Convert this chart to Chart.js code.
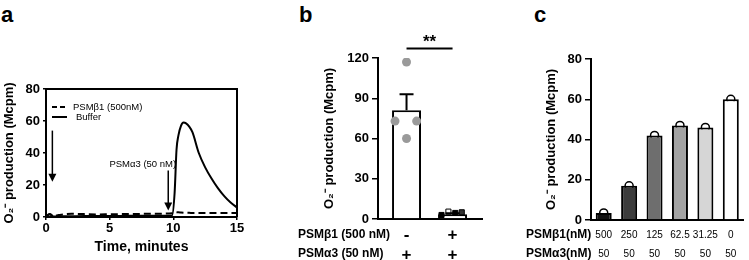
<!DOCTYPE html>
<html>
<head>
<meta charset="utf-8">
<script src="https://cdn.jsdelivr.net/npm/chart.js@4.4.1/dist/chart.umd.min.js"></script>
<style>
  body { margin: 0; width: 749px; height: 260px; background: #fff; position: relative; overflow: hidden; font-family: "Liberation Sans", Arial, sans-serif; }
  canvas { position: absolute; top: 0; }
  .letter { position: absolute; top: 2px; font-weight: bold; font-size: 22px; color: #000; }
</style>
</head>
<body>
<div class="letter" style="left:1px">a</div>
<div class="letter" style="left:299px">b</div>
<div class="letter" style="left:534px">c</div>
<canvas id="chartA" width="250" height="260" style="left:0"></canvas>
<canvas id="chartB" width="250" height="260" style="left:250px"></canvas>
<canvas id="chartC" width="249" height="260" style="left:500px"></canvas>
<script>
// Panel a: time course (minutes, Mcpm)
const timeA = [0, 0.3, 0.6, 1, 2, 3, 4, 5, 6, 7, 8, 9, 9.9, 10.1, 10.25, 10.4, 10.6, 10.8, 11, 11.25, 11.5, 12, 12.5, 13, 13.5, 14, 14.5, 15];
const bufferA = [0.5, 1.5, 0.3, 0.4, 0.5, 0.6, 0.6, 0.7, 0.7, 0.8, 0.8, 0.8, 1, 15, 42, 51, 57, 59, 58.5, 56.5, 53, 40, 31, 24, 18, 13, 9, 6];
const psmB1A = [0.5, 1.8, 0.6, 1.2, 2, 1.8, 1.6, 1.7, 1.8, 1.9, 2, 2.1, 2.4, 3.2, 3, 2.9, 2.8, 2.7, 2.6, 2.6, 2.5, 2.5, 2.5, 2.5, 2.5, 2.5, 2.5, 2.5];
// arrows: time, top value, tip value
const arrowTimes = [0.5, 9.6];
const arrowTops = [54, 29];
const arrowTips = [22, 4];

// Panel b
const rowB1 = ['-', '+'];
const rowA3 = ['+', '+'];
const meansB = [81, 3.5];
const semB = [12, 0.8];
const ctrlPts = [117, 73, 73, 60];
const ctrlJitter = [0, -0.25, 0.22, 0];
const psmPts = [3, 5.5, 4.5, 5];
const psmJitter = [-0.24, -0.09, 0.06, 0.2];

// Panel c
const doseB1 = ['500', '250', '125', '62.5', '31.25', '0'];
const doseA3 = ['50', '50', '50', '50', '50', '50'];
const valuesC = [3.5, 17, 42, 47, 46, 60];
const fillsC = ['#111111', '#3c3c3c', '#6e6e6e', '#a3a3a3', '#d6d6d6', '#ffffff'];

const FAMILY = '"Liberation Sans", Arial, sans-serif';
Chart.defaults.font.family = FAMILY;
Chart.defaults.color = '#000';
Chart.defaults.animation = false;

const yTitle = 'O\u2082\u207B production (Mcpm)';

function yAxis(max, step, width, tickLen) {
  return {
    min: 0, max: max,
    ticks: { stepSize: step, font: { size: 13, weight: 'bold' }, color: '#000', padding: 3 },
    grid: { display: true, drawOnChartArea: false, tickLength: tickLen, color: '#000', lineWidth: 1.5 },
    border: { color: '#000', width: 2 },
    title: { display: true, text: yTitle, font: { size: 13, weight: 'bold' }, color: '#000', padding: 2 },
    afterFit: s => { s.width = width; }
  };
}

function drawArrow(ctx, x, y1, y2) {
  ctx.beginPath();
  ctx.moveTo(x, y1);
  ctx.lineTo(x, y2 - 6);
  ctx.stroke();
  ctx.beginPath();
  ctx.moveTo(x - 4, y2 - 8);
  ctx.lineTo(x + 4, y2 - 8);
  ctx.lineTo(x, y2);
  ctx.closePath();
  ctx.fill();
}

// ---- panel a
const annotateA = {
  id: 'annotateA',
  afterDraw(chart) {
    const { ctx, chartArea: a, scales: { x, y } } = chart;
    ctx.save();
    ctx.strokeStyle = '#000';
    ctx.fillStyle = '#000';
    ctx.lineWidth = 2;
    // frame top + right
    ctx.beginPath();
    ctx.moveTo(a.left, a.top);
    ctx.lineTo(a.right, a.top);
    ctx.lineTo(a.right, a.bottom);
    ctx.stroke();
    // legend
    ctx.font = '9.5px ' + FAMILY;
    ctx.textBaseline = 'middle';
    ctx.setLineDash([5, 3]);
    ctx.beginPath(); ctx.moveTo(a.left + 6, a.top + 18); ctx.lineTo(a.left + 21, a.top + 18); ctx.stroke();
    ctx.setLineDash([]);
    ctx.beginPath(); ctx.moveTo(a.left + 6, a.top + 28); ctx.lineTo(a.left + 21, a.top + 28); ctx.stroke();
    ctx.fillText('PSM\u03B21 (500nM)', a.left + 27, a.top + 18);
    ctx.fillText('Buffer', a.left + 30, a.top + 28);
    // arrows
    ctx.lineWidth = 1.5;
    arrowTimes.forEach((t, i) => {
      drawArrow(ctx, x.getPixelForValue(t), y.getPixelForValue(arrowTops[i]), y.getPixelForValue(arrowTips[i]));
    });
    ctx.textAlign = 'center';
    ctx.fillText('PSM\u03B13 (50 nM)', x.getPixelForValue(7.6), y.getPixelForValue(33));
    ctx.restore();
  }
};

new Chart(document.getElementById('chartA'), {
  type: 'scatter',
  data: {
    datasets: [
      {
        label: 'PSMβ1 (500nM)',
        data: timeA.map((t, i) => ({ x: t, y: psmB1A[i] })),
        showLine: true, borderColor: '#000', borderWidth: 2, borderDash: [7, 4],
        pointRadius: 0, cubicInterpolationMode: 'monotone'
      },
      {
        label: 'Buffer',
        data: timeA.map((t, i) => ({ x: t, y: bufferA[i] })),
        showLine: true, borderColor: '#000', borderWidth: 2,
        pointRadius: 0, cubicInterpolationMode: 'monotone'
      }
    ]
  },
  options: {
    responsive: false,
    layout: { padding: { left: 0, right: 13, top: 89, bottom: 4 } },
    plugins: { legend: { display: false }, tooltip: { enabled: false } },
    scales: {
      x: {
        type: 'linear', min: 0, max: 15,
        ticks: { stepSize: 5, font: { size: 13, weight: 'bold' }, color: '#000', padding: 1 },
        grid: { display: true, drawOnChartArea: false, tickLength: 3, color: '#000', lineWidth: 1.5 },
        border: { color: '#000', width: 2 },
        title: { display: true, text: 'Time, minutes', font: { size: 14, weight: 'bold' }, color: '#000', padding: 0 },
        afterFit: s => { s.height = 39; }
      },
      y: yAxis(80, 20, 46, 3)
    }
  },
  plugins: [annotateA]
});

// ---- panel b
const annotateB = {
  id: 'annotateB',
  afterDatasetsDraw(chart) {
    const { ctx, chartArea: a, scales: { x, y } } = chart;
    ctx.save();
    ctx.strokeStyle = '#000';
    ctx.fillStyle = '#000';
    ctx.lineWidth = 2;
    // error bars (upper SEM)
    meansB.forEach((m, i) => {
      const cx = x.getPixelForValue(i);
      const y0 = y.getPixelForValue(m);
      const y1 = y.getPixelForValue(m + semB[i]);
      ctx.beginPath();
      ctx.moveTo(cx, y0); ctx.lineTo(cx, y1);
      ctx.moveTo(cx - 7, y1); ctx.lineTo(cx + 7, y1);
      ctx.stroke();
    });
    // significance
    const ys = y.getPixelForValue(127);
    ctx.beginPath();
    ctx.moveTo(x.getPixelForValue(0), ys);
    ctx.lineTo(x.getPixelForValue(1), ys);
    ctx.stroke();
    ctx.font = 'bold 17px ' + FAMILY;
    ctx.textAlign = 'center';
    ctx.textBaseline = 'bottom';
    ctx.fillText('**', x.getPixelForValue(0.5), ys + 2);
    // row headers
    ctx.font = 'bold 12px ' + FAMILY;
    ctx.textAlign = 'left';
    ctx.textBaseline = 'middle';
    ctx.fillText('PSM\u03B21 (500 nM)', a.left - 80, a.bottom + 16);
    ctx.fillText('PSM\u03B13 (50 nM)', a.left - 80, a.bottom + 35);
    ctx.restore();
  }
};

new Chart(document.getElementById('chartB'), {
  type: 'bar',
  data: {
    datasets: [
      {
        type: 'scatter', order: 1,
        data: ctrlPts.map((v, i) => ({ x: ctrlJitter[i], y: v })),
        pointRadius: 4.5, backgroundColor: '#9a9a9a', borderWidth: 0
      },
      {
        type: 'scatter', order: 1,
        data: psmPts.map((v, i) => ({ x: 1 + psmJitter[i], y: v })),
        pointStyle: 'rect', pointRadius: 3.6, borderColor: '#000', borderWidth: 1,
        backgroundColor: ['#000', '#fff', '#000', '#333']
      },
      {
        data: meansB.map((m, i) => ({ x: i, y: m })), order: 3,
        backgroundColor: '#fff', borderColor: '#000', borderWidth: 2,
        categoryPercentage: 1, barPercentage: 0.63
      }
    ]
  },
  options: {
    responsive: false,
    layout: { padding: { left: 70, right: 18, top: 58, bottom: 0 } },
    plugins: { legend: { display: false }, tooltip: { enabled: false } },
    scales: {
      x: {
        type: 'linear', min: -0.62, max: 1.64, offset: false,
        afterBuildTicks: s => { s.ticks = [{ value: 0 }, { value: 1 }]; },
        ticks: {
          callback: v => [rowB1[v], rowA3[v]],
          font: { size: 17, weight: 'bold', lineHeight: 1.15 }, color: '#000', padding: 7, maxRotation: 0
        },
        grid: { display: false, drawTicks: false },
        border: { color: '#000', width: 2 },
        afterFit: s => { s.height = 41; }
      },
      y: yAxis(120, 30, 58, 6)
    }
  },
  plugins: [annotateB]
});

// ---- panel c
const annotateC = {
  id: 'annotateC',
  afterDraw(chart) {
    const { ctx, chartArea: a } = chart;
    ctx.save();
    ctx.fillStyle = '#000';
    ctx.font = 'bold 12px ' + FAMILY;
    ctx.textBaseline = 'middle';
    ctx.fillText('PSM\u03B21(nM)', a.left - 65, a.bottom + 15);
    ctx.fillText('PSM\u03B13(nM)', a.left - 65, a.bottom + 34);
    ctx.restore();
  }
};

new Chart(document.getElementById('chartC'), {
  type: 'bar',
  data: {
    labels: doseB1.map((d, i) => [d, doseA3[i]]),
    datasets: [
      {
        data: valuesC, order: 1,
        backgroundColor: fillsC, borderColor: '#000', borderWidth: 2,
        categoryPercentage: 1, barPercentage: 0.63
      },
      {
        type: 'line', data: valuesC, order: 3, showLine: false,
        pointRadius: 4, pointBackgroundColor: '#fff', pointBorderColor: '#000', pointBorderWidth: 1.5
      }
    ]
  },
  options: {
    responsive: false,
    layout: { padding: { left: 42, right: 3, top: 59, bottom: 0 } },
    plugins: { legend: { display: false }, tooltip: { enabled: false } },
    scales: {
      x: {
        ticks: { font: { size: 10, lineHeight: 1.95 }, color: '#000', padding: 5, maxRotation: 0, autoSkip: false },
        grid: { display: false, drawTicks: false },
        border: { color: '#000', width: 2 },
        afterFit: s => { s.height = 40; }
      },
      y: yAxis(80, 20, 49, 6)
    }
  },
  plugins: [annotateC]
});
</script>
</body>
</html>
